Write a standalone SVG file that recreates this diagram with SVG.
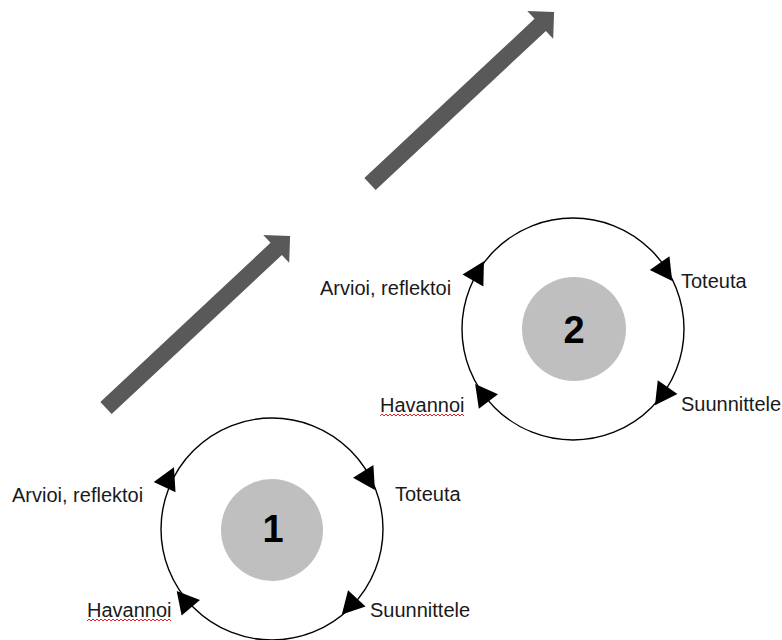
<svg xmlns="http://www.w3.org/2000/svg" xmlns:xlink="http://www.w3.org/1999/xlink" width="782" height="640" viewBox="0 0 782 640">
<style>
.ring{fill:none;stroke:#000;stroke-width:1.4}
.core{fill:#bfbfbf}
.lbl{font-family:"Liberation Sans",Arial,sans-serif;font-size:20px;fill:#1a1a1a}
.num{font-family:"Liberation Sans",Arial,sans-serif;font-size:38px;font-weight:bold;fill:#000;text-anchor:middle}
.ah{fill:#000}
.big{fill:#595959}
.sq{fill:none;stroke:#e02020;stroke-width:1}
</style>
<defs>
<path id="bigArrow" d="M0,-8.3 L233,-8.3 L233,-19 L252,0 L233,19 L233,8.3 L0,8.3 Z"/>
<path id="head" d="M14.5,0 L-7.5,-12 L-7.5,12 Z"/>
<path id="squig" d="M0,2 l2,-2 l2,2 l2,-2 l2,2 l2,-2 l2,2 l2,-2 l2,2 l2,-2 l2,2 l2,-2 l2,2 l2,-2 l2,2 l2,-2 l2,2 l2,-2 l2,2 l2,-2 l2,2 l2,-2 l2,2 l2,-2 l2,2 l2,-2 l2,2 l2,-2 l2,2 l2,-2 l2,2 l2,-2 l2,2 l2,-2 l2,2 l2,-2 l2,2 l2,-2 l2,2 l2,-2 l2,2 l2,-2 l2,2"/>
</defs>
<rect width="782" height="640" fill="#fff"/>
<g id="connectors">
<use xlink:href="#bigArrow" class="big" transform="translate(106,408) rotate(-43.07)"/>
<use xlink:href="#bigArrow" class="big" transform="translate(370,184) rotate(-43.07)"/>
</g>
<g id="cycle1">
<circle class="ring" cx="272" cy="529" r="111"/>
<circle class="core" cx="272" cy="530" r="51"/>
<text class="num" x="273" y="542">1</text>
<use xlink:href="#head" class="ah" transform="translate(167.8,480.3) rotate(295)"/>
<use xlink:href="#head" class="ah" transform="translate(367.2,477.8) rotate(58)"/>
<use xlink:href="#head" class="ah" transform="translate(351.7,603.9) rotate(133)"/>
<use xlink:href="#head" class="ah" transform="translate(186,602) rotate(230)"/>
</g>
<g id="labels1">
<text class="lbl" x="12" y="502">Arvioi, reflektoi</text>
<text class="lbl" x="395" y="501">Toteuta</text>
<text class="lbl" x="370" y="617">Suunnittele</text>
<text class="lbl" x="87" y="617">Havannoi</text>
<use xlink:href="#squig" class="sq" transform="translate(87,619)"/>
</g>
<g id="cycle2">
<circle class="ring" cx="573" cy="329" r="111"/>
<circle class="core" cx="574" cy="329" r="52"/>
<text class="num" x="574" y="343">2</text>
<use xlink:href="#head" class="ah" transform="translate(476.7,273.9) rotate(300)"/>
<use xlink:href="#head" class="ah" transform="translate(663.9,269.2) rotate(55)"/>
<use xlink:href="#head" class="ah" transform="translate(663.3,393.3) rotate(125)"/>
<use xlink:href="#head" class="ah" transform="translate(483.9,395.6) rotate(233)"/>
</g>
<g id="labels2">
<text class="lbl" x="320" y="295">Arvioi, reflektoi</text>
<text class="lbl" x="681" y="288">Toteuta</text>
<text class="lbl" x="681" y="411">Suunnittele</text>
<text class="lbl" x="380" y="412">Havannoi</text>
<use xlink:href="#squig" class="sq" transform="translate(380,414)"/>
</g>
</svg>
